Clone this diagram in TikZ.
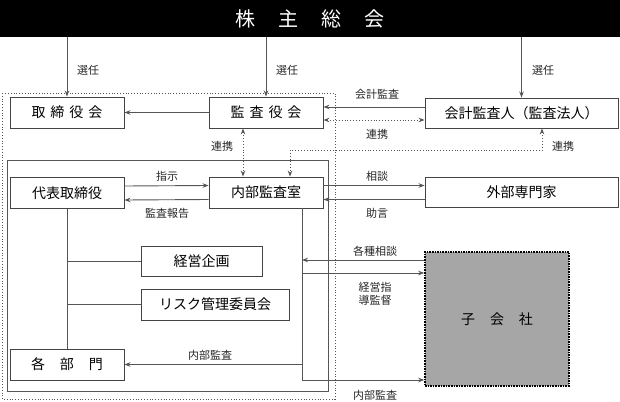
\documentclass[tikz,border=0pt]{standalone}
\usepackage{fontspec}
\setmainfont{Noto Sans CJK JP}
\usetikzlibrary{arrows.meta}
\definecolor{ln}{HTML}{555555}
\definecolor{bx}{HTML}{444444}
\begin{document}
\begin{tikzpicture}[x=1pt,y=-1pt,
  box/.style={draw=bx,line width=0.9pt,fill=white,inner sep=0pt,font=\fontsize{14}{16}\selectfont},
  lab/.style={font=\fontsize{11}{13}\selectfont,inner sep=0pt,text=black!85},
  arr/.style={draw=ln,line width=0.9pt,-{Stealth[length=6pt,width=4.5pt]}},
  plain/.style={draw=ln,line width=0.9pt},
  dotarr/.style={draw=ln,line width=0.9pt,dotted,{Stealth[length=6pt,width=4.5pt]}-{Stealth[length=6pt,width=4.5pt]}},
  frame/.style={draw=ln,line width=0.8pt}
]
\useasboundingbox (0,0) rectangle (620,401);
% frames
\draw[frame,dotted] (2,93) rectangle (335,399);
\draw[frame] (7,160) rectangle (328,391);
% title bar
\node[fill=black,minimum width=620pt,minimum height=37pt,inner sep=0pt,text=white,font=\fontsize{20}{22}\selectfont] (soukai) at (310,18.5) {\raisebox{-3pt}{株\hspace{23pt}主\hspace{23pt}総\hspace{23pt}会}};
% boxes
\node[box,minimum width=114pt,minimum height=31pt] (tori) at (67,112.5) {取\hspace{5pt}締\hspace{5pt}役\hspace{5pt}会};
\node[box,minimum width=114pt,minimum height=31pt] (kansa) at (266,112.5) {監\hspace{5pt}査\hspace{5pt}役\hspace{5pt}会};
\node[box,minimum width=193pt,minimum height=30pt] (kaikei) at (521.5,113) {会計監査人（監査法人）};
\node[box,minimum width=114pt,minimum height=31pt] (daihyo) at (67,193) {代表取締役};
\node[box,minimum width=114pt,minimum height=31pt] (naibu) at (266,192.5) {内部監査室};
\node[box,minimum width=193pt,minimum height=30pt] (gaibu) at (521.5,192) {外部専門家};
\node[box,minimum width=121pt,minimum height=30pt] (keiei) at (201.5,261) {経営企画};
\node[box,minimum width=148pt,minimum height=31pt] (risk) at (215,304.5) {リスク管理委員会};
\node[box,minimum width=114pt,minimum height=31pt] (kakubu) at (67,364.5) {各\hspace{15pt}部\hspace{15pt}門};
\node[box,draw=black,line width=1.6pt,densely dotted,fill=black!35,minimum width=144pt,minimum height=134pt] (kogaisha) at (497,319) {子\hspace{15pt}会\hspace{15pt}社};
% election arrows
\draw[arr] (soukai.south -| tori) -- (tori.north);
\draw[arr] (soukai.south -| kansa) -- (kansa.north);
\draw[arr] (soukai.south -| kaikei) -- (kaikei.north);
\node[lab] (l1) at (88,70) {選任};
\node[lab] (l2) at (287,70) {選任};
\node[lab] (l3) at (543,70) {選任};
% kansa -> tori
\draw[arr] (kansa.west) -- (tori.east);
% kaikei <-> kansa
\draw[arr] ([yshift=6pt]kaikei.west) -- ([yshift=6pt]kansa.east |- kaikei.west);
\draw[dotarr] ([yshift=-7pt]kansa.east |- kaikei.west) -- ([yshift=-7pt]kaikei.west);
\node[lab] (l4) at (377,94) {会計監査};
\node[lab] (l5) at (377,134) {連携};
% kansa <-> naibu
\draw[dotarr] ([xshift=-23pt]kansa.south) -- ([xshift=-23pt]naibu.north);
\node[lab] (l6) at (222,146) {連携};
% kaikei <-> naibu
\coordinate (c1) at (542,150);
\coordinate (c2) at (290,150);
\draw[dotarr] (kaikei.south -| c1) -- (c1) -- (c2) -- (naibu.north -| c2);
\node[lab] (l7) at (563,146) {連携};
% daihyo <-> naibu
\draw[arr] ([yshift=7pt]daihyo.east) -- ([yshift=7pt]naibu.west);
\draw[arr] ([yshift=-7pt]naibu.west) -- ([yshift=-7pt]daihyo.east);
\node[lab] (l8) at (167,176) {指示};
\node[lab] (l9) at (167,213) {監査報告};
% naibu <-> gaibu
\draw[arr] ([yshift=7pt]naibu.east) -- ([yshift=7pt]naibu.east -| gaibu.west);
\draw[arr] ([yshift=-7pt]naibu.east -| gaibu.west) -- ([yshift=-7pt]naibu.east);
\node[lab] (l10) at (377,176) {相談};
\node[lab] (l11) at (377,213) {助言};
% daihyo tree
\draw[plain] (daihyo.south) -- (kakubu.north);
\draw[plain] (daihyo.south |- keiei.west) -- (keiei.west);
\draw[plain] (daihyo.south |- risk.west) -- (risk.west);
% naibu vertical
\coordinate (v) at (302,380);
\coordinate (ks) at (302,260);
\coordinate (kk) at (302,273);
\draw[arr] (naibu.south -| v) -- (v) -- (kogaisha.west |- v);
\draw[arr] (kakubu.east -| v) -- (kakubu.east);
\draw[arr] (kogaisha.west |- ks) -- (ks);
\draw[arr] (kk) -- (kogaisha.west |- kk);
\node[lab] (l12) at (210,355) {内部監査};
\node[lab] (l13) at (375,251) {各種相談};
\node[lab,align=center] (l14) at (375,294) {経営指\\導監督};
\node[lab] (l15) at (375,395) {内部監査};
\end{tikzpicture}
\end{document}
